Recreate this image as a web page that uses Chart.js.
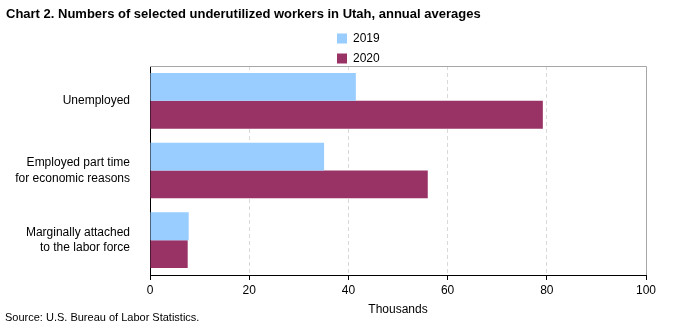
<!DOCTYPE html>
<html>
<head>
<meta charset="utf-8">
<script src="https://cdn.jsdelivr.net/npm/chart.js@4.4.0/dist/chart.umd.min.js"></script>
<style>
  html, body { margin: 0; padding: 0; background: #fff; }
  #wrap { width: 673px; height: 325px; }
</style>
</head>
<body>
<div id="wrap"><canvas id="myChart" width="673" height="325"></canvas></div>
<script>
const categories = [
  "Unemployed",
  ["Employed part time", "for economic reasons"],
  ["Marginally attached", "to the labor force"]
];
const seriesNames = ["2019", "2020"];
const values2019 = [41.5, 35.1, 7.8];
const values2020 = [79.2, 56.0, 7.6];
const xTicks = [0, 20, 40, 60, 80, 100];

const FONT = "'Liberation Sans', Arial, sans-serif";

// title, source note, vertical legend and the gray top/right frame
const extras = {
  id: "extras",
  afterDraw(chart) {
    const ctx = chart.ctx;
    const area = chart.chartArea;
    ctx.save();

    ctx.strokeStyle = "#a6a6a6";
    ctx.lineWidth = 1;
    ctx.beginPath();
    ctx.moveTo(area.left, area.top + 0.5);
    ctx.lineTo(area.right + 0.5, area.top + 0.5);
    ctx.lineTo(area.right + 0.5, area.bottom);
    ctx.stroke();

    ctx.fillStyle = "#000";
    ctx.textBaseline = "middle";
    ctx.textAlign = "left";
    ctx.font = "bold 13px " + FONT;
    ctx.fillText("Chart 2. Numbers of selected underutilized workers in Utah, annual averages", 6, 14);

    ctx.font = "11px " + FONT;
    ctx.fillText("Source: U.S. Bureau of Labor Statistics.", 5, 318);

    ctx.font = "12px " + FONT;
    chart.data.datasets.forEach((ds, i) => {
      const y = 38 + i * 20;
      ctx.fillStyle = ds.backgroundColor;
      ctx.fillRect(337, y - 4.5, 10, 10);
      ctx.fillStyle = "#000";
      ctx.fillText(ds.label, 353, y + 0.5);
    });
    ctx.restore();
  }
};

let ch = document.getElementById("myChart");
new Chart(ch, {
  type: "bar",
  data: {
    labels: categories,
    datasets: [{
      label: seriesNames[0],
      backgroundColor: "#99ccff",
      data: values2019
    }, {
      label: seriesNames[1],
      backgroundColor: "#993366",
      data: values2020
    }]
  },
  options: {
    indexAxis: "y",
    responsive: false,
    animation: false,
    categoryPercentage: 0.8,
    barPercentage: 1,
    layout: { padding: { top: 66, right: 27, bottom: 0, left: 0 } },
    plugins: {
      legend: { display: false },
      tooltip: { enabled: false }
    },
    scales: {
      x: {
        min: 0,
        max: 100,
        afterFit: (s) => { s.height = 50; },
        afterBuildTicks: (s) => { s.ticks = xTicks.map(v => ({ value: v })); },
        ticks: { color: "#000", font: { family: FONT, size: 12 }, padding: 3 },
        grid: {
          color: (c) => (c.tick && (c.tick.value === 0 || c.tick.value === 100)) ? "rgba(0,0,0,0)" : "#d9d9d9",
          tickColor: "#000",
          tickLength: 5
        },
        border: { color: "#000", dash: [4, 3] },
        title: {
          display: true,
          text: "Thousands",
          color: "#000",
          font: { family: FONT, size: 12 },
          padding: { top: 0, bottom: 8 }
        }
      },
      y: {
        afterFit: (s) => { s.width = 150; },
        ticks: { color: "#000", font: { family: FONT, size: 12, lineHeight: 1.3 }, padding: 12 },
        grid: { display: false },
        border: { color: "#000" }
      }
    }
  },
  plugins: [extras]
});
</script>
</body>
</html>
